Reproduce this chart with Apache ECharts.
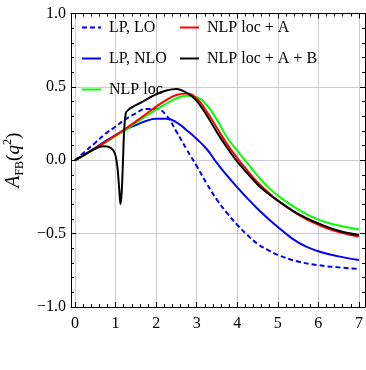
<!DOCTYPE html>
<html>
<head>
<meta charset="utf-8">
<script src="https://cdn.jsdelivr.net/npm/echarts@6/dist/echarts.min.js"></script>
<style>
  html, body { margin: 0; padding: 0; background: #fff; }
  #chart { width: 366px; height: 370px; }
</style>
</head>
<body>
<div id="chart"></div>
<script>
// q^2 grid shared by the smooth curves
const xs = [0, 0.25, 0.5, 0.75, 1.0, 1.25, 1.5, 1.75, 2.0, 2.25, 2.5, 2.75, 3.0, 3.25, 3.5, 3.75, 4.0, 4.25, 4.5, 4.75, 5.0, 5.5, 6.0, 6.5, 7.0];
const lpLo = [0, 0.06, 0.12, 0.18, 0.23, 0.28, 0.32, 0.35, 0.35, 0.305, 0.195, 0.075, -0.04, -0.16, -0.27, -0.36, -0.44, -0.51, -0.57, -0.61, -0.645, -0.69, -0.715, -0.73, -0.74];
const lpNlo = [0, 0.04, 0.085, 0.13, 0.172, 0.21, 0.24, 0.268, 0.282, 0.283, 0.258, 0.205, 0.145, 0.075, -0.02, -0.105, -0.185, -0.26, -0.33, -0.395, -0.455, -0.56, -0.62, -0.655, -0.68];
const nlpLoc = [0, 0.04, 0.08, 0.12, 0.165, 0.207, 0.255, 0.30, 0.345, 0.385, 0.422, 0.44, 0.43, 0.375, 0.275, 0.155, 0.065, -0.02, -0.105, -0.18, -0.24, -0.335, -0.405, -0.445, -0.47];
const nlpLocA = [0, 0.04, 0.082, 0.125, 0.17, 0.215, 0.265, 0.315, 0.365, 0.41, 0.445, 0.455, 0.42, 0.33, 0.22, 0.11, 0.015, -0.07, -0.15, -0.215, -0.275, -0.37, -0.44, -0.49, -0.52];
// black curve needs its own grid for the narrow dip
const xsB = [0, 0.25, 0.5, 0.7, 0.85, 0.95, 1.0, 1.05, 1.09, 1.12, 1.15, 1.18, 1.21, 1.25, 1.3, 1.4, 1.6, 1.8, 2.0, 2.25, 2.5, 2.75, 3.0, 3.25, 3.5, 3.75, 4.0, 4.25, 4.5, 4.75, 5.0, 5.5, 6.0, 6.5, 7.0];
const nlpLocAB = [0, 0.04, 0.08, 0.095, 0.09, 0.065, 0.03, -0.06, -0.2, -0.3, -0.22, -0.02, 0.2, 0.32, 0.34, 0.36, 0.39, 0.42, 0.45, 0.475, 0.485, 0.46, 0.405, 0.305, 0.19, 0.085, -0.01, -0.09, -0.165, -0.225, -0.275, -0.365, -0.43, -0.48, -0.51];

const names = ['LP, LO', 'LP, NLO', 'NLP loc', 'NLP loc + A', 'NLP loc + A + B'];
const colors = ['#0000ff', '#0000ff', '#00ff00', '#ff0000', '#000000'];
const yTicks = { '-1': '\u22121.0', '-0.5': '\u22120.5', '0': '0.0', '0.5': '0.5', '1': '1.0' };

const font = 'Liberation Serif';
const pairs = (x, y) => x.map((v, i) => [v, y[i]]);

const chart = echarts.init(document.getElementById('chart'));

const mkSeries = (name, color, data, dashed, smooth) => ({
  name: name,
  type: 'line',
  data: data,
  showSymbol: false,
  symbol: 'none',
  smooth: smooth,
  color: color,
  lineStyle: { color: color, width: 2, type: dashed ? [5, 3] : 'solid' },
  animation: false
});

const tickBase = {
  axisTick: { show: true, inside: true, length: 5, lineStyle: { color: '#000' } },
  minorTick: { show: true, splitNumber: 5, length: 3, lineStyle: { color: '#000' } },
  axisLine: { show: true, onZero: false, lineStyle: { color: '#000', width: 1 } }
};

const legendBase = {
  orient: 'vertical', top: 19.5, itemGap: 15, padding: 0,
  itemWidth: 19, itemHeight: 10,
  itemStyle: { opacity: 0 },
  textStyle: { fontFamily: font, fontSize: 16, lineHeight: 16, color: '#000', padding: [0, 0, 0, 3] }
};

const option = {
  backgroundColor: '#fff',
  animation: false,
  grid: { left: 71, right: 1, top: 13.5, bottom: 63, containLabel: false, outerBoundsMode: 'none' },
  legend: [
    Object.assign({ data: names.slice(0, 3), left: 81 }, legendBase),
    Object.assign({ data: names.slice(3), left: 179 }, legendBase)
  ],
  xAxis: [
    Object.assign({
      type: 'value', min: -0.1, max: 7.15, splitNumber: 7, position: 'bottom',
      splitLine: { show: true, lineStyle: { color: '#cccccc', width: 1 } },
      axisLabel: { fontFamily: font, fontSize: 16, color: '#000', margin: 9,
        formatter: v => (Math.abs(v - Math.round(v)) < 1e-6 ? String(Math.round(v)) : '') }
    }, tickBase),
    Object.assign({
      type: 'value', min: -0.1, max: 7.15, splitNumber: 7, position: 'top',
      splitLine: { show: false }, axisLabel: { show: false }
    }, tickBase)
  ],
  yAxis: [
    Object.assign({
      type: 'value', min: -1, max: 1, interval: 0.5, position: 'left',
      splitLine: { show: true, lineStyle: { color: '#cccccc', width: 1 } },
      axisLabel: { fontFamily: font, fontSize: 16, color: '#000', margin: 5,
        formatter: v => yTicks[String(v)] || '' },
      name: '{a|A}{s|FB}{p|(}{q|q}{u|2}{p|)}',
      nameLocation: 'middle', nameGap: 44, nameRotate: 90,
      nameTextStyle: {
        fontFamily: font, fontSize: 19, color: '#000', lineHeight: 24,
        rich: {
          a: { fontFamily: font, fontSize: 20, fontStyle: 'italic', lineHeight: 24 },
          s: { fontFamily: font, fontSize: 12, verticalAlign: 'bottom', lineHeight: 24 },
          p: { fontFamily: font, fontSize: 19, lineHeight: 24 },
          q: { fontFamily: font, fontSize: 19, fontStyle: 'italic', lineHeight: 24 },
          u: { fontFamily: font, fontSize: 12, verticalAlign: 'top', lineHeight: 24 }
        }
      }
    }, tickBase),
    Object.assign({
      type: 'value', min: -1, max: 1, interval: 0.5, position: 'right',
      splitLine: { show: false }, axisLabel: { show: false }
    }, tickBase)
  ],
  series: [
    mkSeries(names[0], colors[0], pairs(xs, lpLo), true, 0.5),
    mkSeries(names[1], colors[1], pairs(xs, lpNlo), false, 0.5),
    mkSeries(names[2], colors[2], pairs(xs, nlpLoc), false, 0.5),
    mkSeries(names[3], colors[3], pairs(xs, nlpLocA), false, 0.5),
    mkSeries(names[4], colors[4], pairs(xsB, nlpLocAB), false, 0.3)
  ]
};

chart.setOption(option);
</script>
</body>
</html>
